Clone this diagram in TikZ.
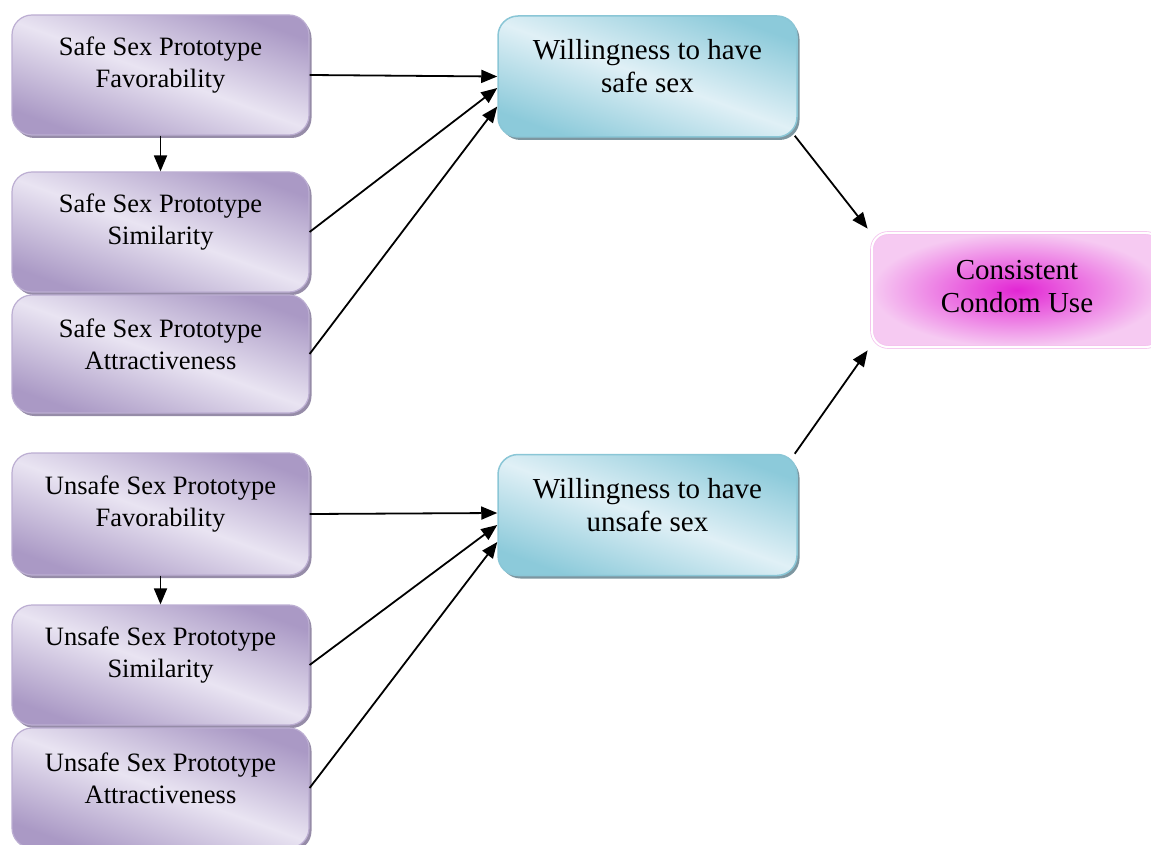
\documentclass[tikz,border=0pt]{standalone}
\usepackage{fontspec}
\setmainfont{Liberation Serif}
\usetikzlibrary{arrows.meta,shadows}

\definecolor{protoDark}{RGB}{170,153,197}
\definecolor{protoLight}{RGB}{233,228,242}
\definecolor{protoLine}{RGB}{188,174,210}
\definecolor{protoShadow}{RGB}{150,140,168}
\definecolor{willDark}{RGB}{140,202,218}
\definecolor{willLight}{RGB}{224,240,246}
\definecolor{willLine}{RGB}{138,198,214}
\definecolor{willShadow}{RGB}{125,150,160}
\definecolor{useInner}{RGB}{226,38,212}
\definecolor{useOuter}{RGB}{246,202,242}
\definecolor{useLine}{RGB}{244,196,238}

\tikzset{
  protobox/.style={rectangle, rounded corners=20pt, minimum width=297pt,
    minimum height=120pt, draw=protoLine, line width=1.2pt,
    top color=protoDark, bottom color=protoDark, middle color=protoLight,
    shading angle=-20,
    drop shadow={shadow xshift=2.5pt, shadow yshift=-3pt, fill=protoShadow, opacity=1}},
  willbox/.style={rectangle, rounded corners=20pt, minimum width=299pt,
    minimum height=121pt, draw=willLine, line width=1.5pt,
    top color=willDark, bottom color=willDark, middle color=willLight,
    shading angle=-20,
    drop shadow={shadow xshift=2.5pt, shadow yshift=-3pt, fill=willShadow, opacity=1}},
  usebox/.style={rectangle, rounded corners=16pt, minimum width=290pt,
    minimum height=114pt, draw=useLine, line width=0.8pt, double=white,
    double distance=2pt, shading=radial, inner color=useInner, outer color=useOuter},
  prototext/.style={align=center, inner sep=0pt, font=\fontsize{26.5}{32}\selectfont},
  willtext/.style={align=center, inner sep=0pt, font=\fontsize{29}{33}\selectfont},
  link/.style={-{Triangle[length=16pt,width=13pt]}, line width=1.8pt}
}

\begin{document}
\begin{tikzpicture}[x=1pt,y=-1pt]
    % Page frame, the right box runs off the edge
    \useasboundingbox (0,0) rectangle (1151,845);
    \clip (0,0) rectangle (1151,845);

    % Safe sex prototype boxes on the left
    \node[protobox] (sfav) at (160.5,75) {};
    \node[prototext] (sfavt) at ([yshift=10pt]sfav.center) {Safe Sex Prototype\\Favorability};
    \node[protobox] (ssim) at (160.5,232) {};
    \node[prototext] (ssimt) at ([yshift=10pt]ssim.center) {Safe Sex Prototype\\Similarity};
    \node[protobox, minimum height=118pt] (satt) at (160.5,354) {};
    \node[prototext] (sattt) at ([yshift=10pt]satt.center) {Safe Sex Prototype\\Attractiveness};

    % Unsafe sex prototype boxes on the left
    \node[protobox, minimum height=122pt] (ufav) at (160.5,514) {};
    \node[prototext] (ufavt) at ([yshift=10pt]ufav.center) {Unsafe Sex Prototype\\Favorability};
    \node[protobox] (usim) at (160.5,665) {};
    \node[prototext] (usimt) at ([yshift=10pt]usim.center) {Unsafe Sex Prototype\\Similarity};
    \node[protobox] (uatt) at (160.5,788) {};
    \node[prototext] (uattt) at ([yshift=10pt]uatt.center) {Unsafe Sex Prototype\\Attractiveness};

    % Willingness boxes in the middle
    \node[willbox] (wsafe) at (647.5,76.5) {};
    \node[willtext] (wsafet) at ([yshift=10pt]wsafe.center) {Willingness to have\\safe sex};
    \node[willbox] (wunsafe) at (647.5,515) {};
    \node[willtext] (wunsafet) at ([yshift=10pt]wunsafe.center) {Willingness to have\\unsafe sex};

    % Outcome box on the right
    \node[usebox] (ccu) at (1017,290) {};
    \node[willtext] (ccut) at ([yshift=3pt]ccu.center) {Consistent\\Condom Use};

    % Paths, safe side
    \draw[link] (sfav.south) -- (ssim.north);
    \draw[link] (sfav.east) -- (wsafe.west);
    \draw[link] (ssim.east) -- ([yshift=-11.5pt]wsafe.west);
    \draw[link] (satt.east) -- ([yshift=-30pt]wsafe.west);

    % Paths, unsafe side
    \draw[link] (ufav.south) -- (usim.north);
    \draw[link] (ufav.east) -- ([yshift=2pt]wunsafe.west);
    \draw[link] (usim.east) -- ([yshift=-10pt]wunsafe.west);
    \draw[link] (uatt.east) -- ([yshift=-27pt]wunsafe.west);

    % Paths to the outcome
    \draw[link] ([xshift=-3pt,yshift=2pt]wsafe.south east) -- ([xshift=-4pt,yshift=4pt]ccu.north west);
    \draw[link] ([xshift=-3pt]wunsafe.north east) -- ([xshift=-4pt,yshift=-3pt]ccu.south west);

\end{tikzpicture}
\end{document}
